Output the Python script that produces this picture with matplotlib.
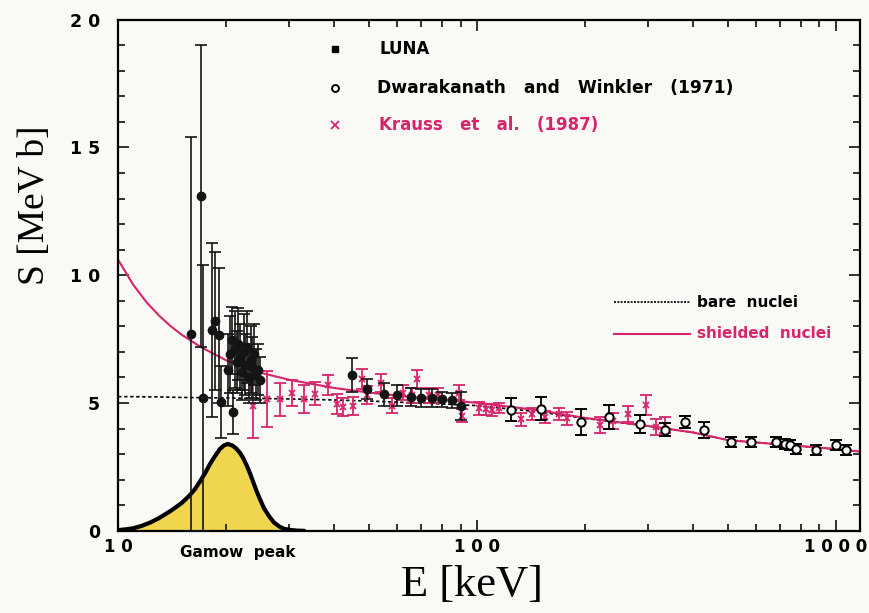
import matplotlib.pyplot as plt
import numpy as np
from matplotlib.ticker import FixedLocator, NullFormatter

# LUNA (filled circles): energy [keV], S factor [MeV b], error
luna_E = [16.0, 17.0, 17.2, 18.2, 18.6, 19.1, 19.4,
          20.2, 20.5, 20.7, 20.9, 21.1, 21.4, 21.6, 21.9, 22.1, 22.4,
          22.6, 22.9, 23.1, 23.4, 23.6, 23.9, 24.2, 24.5, 24.8,
          44.7, 49.5, 55.0, 60.0, 65.6, 70.0, 75.0, 80.0, 85.0, 90.0]
luna_S = [7.7, 13.1, 5.2, 7.85, 8.2, 7.65, 5.05,
          6.3, 6.9, 7.45, 4.65, 7.1, 6.6, 7.3, 6.8, 6.2, 7.0,
          6.5, 7.2, 6.0, 6.7, 6.4, 6.9, 6.1, 6.3, 5.9,
          6.1, 5.55, 5.35, 5.3, 5.23, 5.2, 5.2, 5.15, 5.1, 4.9]
luna_err = [7.7, 5.9, 5.2, 3.4, 2.7, 2.65, 1.4,
            1.4, 1.5, 1.3, 0.85, 1.5, 1.2, 1.4, 1.3, 1.1, 1.5,
            1.2, 1.4, 1.0, 1.3, 1.2, 1.2, 1.0, 1.0, 0.9,
            0.65, 0.4, 0.45, 0.4, 0.35, 0.35, 0.35, 0.3, 0.3, 0.55]

# Dwarakanath and Winkler (1971), open circles
dw_E = [124, 151, 195, 234, 285, 335, 380, 430, 510, 580, 680, 720, 745,
        775, 880, 1000, 1065]
dw_S = [4.73, 4.77, 4.26, 4.45, 4.18, 3.95, 4.26, 3.95, 3.48, 3.48, 3.48,
        3.4, 3.36, 3.2, 3.16, 3.36, 3.16]
dw_err = [0.45, 0.45, 0.5, 0.47, 0.35, 0.25, 0.25, 0.3, 0.2, 0.2, 0.2,
          0.2, 0.2, 0.2, 0.2, 0.2, 0.2]

# Krauss et al. (1987), crosses
kr_E = [23.7, 26.0, 28.2, 30.6, 33.0, 35.3, 38.4, 40.6, 42.2, 45.0, 47.9,
        49.5, 54, 58, 62, 66, 68, 73.5, 78, 89, 91, 101, 106, 110, 115,
        133, 142, 155, 169, 178, 220, 240, 264, 295, 316, 335]
kr_S = [4.9, 5.17, 5.15, 5.4, 5.15, 5.36, 5.7, 4.96, 4.84, 4.9, 5.94,
        5.3, 5.8, 4.9, 5.4, 5.3, 5.95, 5.3, 5.3, 5.4, 4.5, 4.8, 4.75, 4.73, 4.8,
        4.37, 4.57, 4.45, 4.57, 4.4, 4.14, 4.3, 4.57, 4.92, 4.06, 4.14]
kr_err = [1.25, 1.1, 0.65, 0.5, 0.55, 0.45, 0.4, 0.4, 0.35, 0.35, 0.4,
          0.35, 0.35, 0.3, 0.3, 0.3, 0.35, 0.3, 0.3, 0.3, 0.25, 0.25, 0.2, 0.25, 0.2,
          0.25, 0.25, 0.25, 0.25, 0.25, 0.3, 0.3, 0.3, 0.4, 0.3, 0.3]

# bare and electron-shielded S(E) curves
curve_E = [10, 11, 12, 13, 14, 15, 17, 20, 25, 30, 40, 50, 70, 100, 150,
           200, 300, 400, 500, 700, 1000, 1170]
bare_S = [5.25, 5.25, 5.24, 5.24, 5.23, 5.22, 5.21, 5.2, 5.18, 5.16, 5.12,
          5.08, 5.0, 4.9, 4.65, 4.4, 4.1, 3.85, 3.55, 3.38, 3.2, 3.1]
shielded_S = [10.6, 9.64, 8.94, 8.42, 8.01, 7.68, 7.19, 6.67, 6.18, 5.91,
              5.59, 5.41, 5.19, 5.01, 4.71, 4.42, 4.1, 3.85, 3.55, 3.38, 3.2, 3.1]

# Gamow peak (arbitrary height)
gamow_E = [10, 10.5, 11, 11.6, 12.3, 13, 14, 15, 15.8, 16.4, 16.9, 17.5,
           18, 18.6, 19.2, 19.7, 20.2, 20.8, 21.3, 21.8, 22.3, 22.8, 23.3,
           23.8, 24.3, 24.8, 25.5, 26.4, 27.2, 28.2, 29, 30, 31.5, 33]
gamow_S = [0.03, 0.06, 0.1, 0.19, 0.33, 0.5, 0.78, 1.08, 1.38, 1.65, 1.93,
           2.28, 2.6, 2.92, 3.2, 3.34, 3.4, 3.34, 3.23, 3.07, 2.85, 2.57, 2.25,
           1.9, 1.56, 1.26, 0.88, 0.55, 0.32, 0.16, 0.08, 0.04, 0.01, 0.0]

x_major = [10, 100, 1000]
x_labels = ['1 0', '1 0 0', '1 0 0 0']
y_major = [0, 5, 10, 15, 20]
y_labels = ['0', '5', '1 0', '1 5', '2 0']

PINK = '#d8246c'
BG = '#f9f9f6'
tick_font = dict(family='DejaVu Sans', weight='bold', size=12.5)

fig = plt.figure(figsize=(8.69, 6.13), dpi=100, facecolor=BG)
ax = fig.add_axes([0.136, 0.134, 0.854, 0.834])
ax.set_facecolor(BG)

ax.set_xscale('log')
ax.set_xlim(10, 1170)
ax.set_ylim(0, 20)

# Gamow peak
ax.fill_between(gamow_E, 0, gamow_S, color='#efd64e', zorder=1, lw=0)
ax.plot(gamow_E, gamow_S, color='black', lw=3, zorder=2,
        solid_capstyle='round', solid_joinstyle='round')

# theory curves
ax.plot(curve_E, bare_S, color='black', lw=1.2, ls=(0, (2, 1.6)), zorder=2)
ax.plot(curve_E, shielded_S, color=PINK, lw=1.5, zorder=2)

# data sets
ax.errorbar(kr_E, kr_S, yerr=kr_err, fmt='x', color=PINK, ms=5, mew=1.3,
            elinewidth=1.3, capsize=4, capthick=1.3, zorder=3)
ax.errorbar(dw_E, dw_S, yerr=dw_err, fmt='o', color='black', mfc=BG,
            ms=6, mew=1.4, elinewidth=1.3, capsize=4, capthick=1.3, zorder=4)
ax.errorbar(luna_E, luna_S, yerr=luna_err, fmt='o', color='#141414', ms=6,
            elinewidth=1.2, capsize=4, capthick=1.2, zorder=5)

# axes styling
for side in ax.spines.values():
    side.set_linewidth(1.6)
ax.xaxis.set_major_locator(FixedLocator(x_major))
ax.xaxis.set_minor_locator(FixedLocator(
    [m * d for d in (10, 100) for m in range(2, 10)]))
ax.xaxis.set_minor_formatter(NullFormatter())
ax.set_xticklabels(x_labels, fontdict=dict(tick_font, size=12))
ax.yaxis.set_major_locator(FixedLocator(y_major))
ax.yaxis.set_minor_locator(FixedLocator(range(0, 21)))
ax.set_yticklabels(y_labels, fontdict=tick_font)
ax.tick_params(which='both', direction='in', top=True, right=True,
               width=1.3, color='#222222')
ax.tick_params(which='major', length=8)
ax.tick_params(which='minor', length=5)
ax.tick_params(axis='x', pad=5)
ax.tick_params(axis='y', pad=13)

fig.text(0.04, 0.665, 'S [MeV b]', rotation=90, ha='center', va='center',
         family='Liberation Serif', size=27)
fig.text(0.543, 0.045, 'E [keV]', ha='center', va='center',
         family='Liberation Serif', size=32)

label_font = dict(family='DejaVu Sans', weight='bold')
ax.text(0.083, -0.043, 'Gamow  peak', transform=ax.transAxes,
        ha='left', va='center', size=11, **label_font)

# legend for the data sets
lx, tx = 0.292, 0.352
ax.plot([lx], [0.942], 's', color='black', ms=4.5, transform=ax.transAxes,
        clip_on=False)
ax.text(tx, 0.942, 'LUNA', transform=ax.transAxes, va='center', size=12,
        **label_font)
ax.plot([lx], [0.866], 'o', color='black', mfc=BG, ms=5, mew=1.4,
        transform=ax.transAxes, clip_on=False)
ax.text(tx - 0.003, 0.866, 'Dwarakanath   and   Winkler   (1971)',
        transform=ax.transAxes, va='center', size=12.3, **label_font)
ax.plot([lx], [0.794], 'x', color=PINK, ms=6, mew=1.3,
        transform=ax.transAxes, clip_on=False)
ax.text(tx, 0.794, 'Krauss   et   al.   (1987)', transform=ax.transAxes,
        va='center', size=12, color=PINK, **label_font)

# legend for the curves
ax.plot([0.668, 0.77], [0.447, 0.447], color='black', lw=1.2,
        ls=(0, (1.2, 0.8)), transform=ax.transAxes)
ax.text(0.78, 0.447, 'bare  nuclei', transform=ax.transAxes, va='center',
        size=11, **label_font)
ax.plot([0.668, 0.77], [0.386, 0.386], color=PINK, lw=1.5,
        transform=ax.transAxes)
ax.text(0.78, 0.386, 'shielded  nuclei', transform=ax.transAxes,
        va='center', size=11, color=PINK, **label_font)

fig.savefig('out.png', dpi=100, facecolor=BG)
